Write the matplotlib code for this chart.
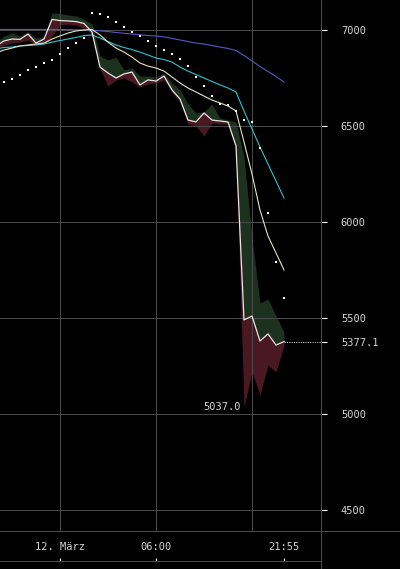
import numpy as np
import matplotlib
matplotlib.use("Agg")
import matplotlib.pyplot as plt
from matplotlib.lines import Line2D

# half-hourly bars, hours since 12. März 00:00
hours = np.arange(-4.0, 14.5, 0.5)

close = [6917, 6943, 6953, 6951, 6979, 6932, 6953, 7055, 7049, 7047, 7044, 7034,
         6990, 6807, 6776, 6750, 6771, 6781, 6714, 6740, 6734, 6760, 6688, 6641,
         6531, 6521, 6568, 6531, 6526, 6521, 6396, 5490, 5510, 5380, 5417, 5359, 5377.1]
high = [6937, 6969, 6984, 6969, 6990, 6958, 6964, 7089, 7086, 7078, 7073, 7057,
        7031, 6865, 6844, 6859, 6792, 6802, 6760, 6760, 6755, 6776, 6724, 6688,
        6615, 6568, 6573, 6615, 6542, 6531, 6521, 6339, 5917, 5578, 5599, 5510, 5427]
low = [6901, 6922, 6932, 6937, 6948, 6922, 6927, 6969, 7026, 7031, 7026, 7010,
       6979, 6797, 6708, 6740, 6750, 6729, 6703, 6719, 6724, 6740, 6677, 6625,
       6510, 6500, 6448, 6516, 6510, 6510, 6375, 5037.0, 5219, 5099, 5255, 5219, 5359]

sma_fast = [6880, 6896, 6906, 6917, 6922, 6927, 6932, 6953, 6969, 6984, 6995, 7000,
            7003, 6974, 6937, 6906, 6885, 6859, 6828, 6812, 6802, 6786, 6755, 6724,
            6698, 6677, 6656, 6635, 6620, 6604, 6578, 6417, 6250, 6062, 5927, 5839, 5750]
sma_mid = [6901, 6909, 6911, 6917, 6919, 6922, 6927, 6937, 6945, 6953, 6961, 6971,
           6974, 6958, 6940, 6922, 6909, 6898, 6885, 6870, 6854, 6846, 6833, 6807,
           6786, 6768, 6750, 6732, 6714, 6698, 6677, 6578, 6484, 6391, 6302, 6213, 6125]
sma_slow = [7003, 7003, 7003, 7003, 7003, 7003, 7003, 7003, 7003, 7002, 7001, 7000,
            6999, 6996, 6992, 6987, 6983, 6979, 6975, 6971, 6969, 6964, 6956, 6948,
            6940, 6932, 6927, 6919, 6911, 6904, 6893, 6867, 6839, 6810, 6784, 6758, 6729]
sar = [6719, 6731, 6745, 6766, 6792, 6809, 6830, 6844, 6875, 6908, 6934, 6957,
       7086, 7084, 7069, 7043, 7017, 6991, 6969, 6944, 6917, 6896, 6875, 6849,
       6812, 6754, 6708, 6656, 6615, 6609, 6578, 6531, 6522, 6385, 6048, 5793, 5606]

last_price = close[-1]
min_low = min(low)

y_ticks = [4500, 5000, 5500, 6000, 6500, 7000]
x_grid = [0, 6, 12]
x_tick_pos = [0, 6, 14]
x_tick_labels = ["12. März", "06:00", "21:55"]

W, H = 400, 569
GRID = "#4d4d4d"
TXT = "#d4d4d4"
MONO = "DejaVu Sans Mono"
x_lim = (-3.75, 16.3125)

fig = plt.figure(figsize=(W / 100, H / 100), dpi=100, facecolor="black")

ax = fig.add_axes([0, 38 / H, 321 / W, 531 / H], facecolor="black")
ax.set_xlim(*x_lim)
ax.set_ylim(4390.6, 7156.25)
for s in ax.spines.values():
    s.set_visible(False)

ax.set_xticks(x_grid)
ax.tick_params(axis="x", length=0, labelbottom=False)
ax.yaxis.tick_right()
ax.set_yticks(y_ticks)
ax.set_yticklabels([str(v) for v in y_ticks])
ax.set_yticks([last_price], minor=True)
ax.set_yticklabels([f"{last_price:.1f}"], minor=True)
ax.tick_params(axis="y", which="both", direction="out", length=4.3, width=0.8,
               color="white", pad=10, labelcolor=TXT, labelsize=7.5)
for lab in ax.get_yticklabels(which="both"):
    lab.set_fontfamily(MONO)
ax.grid(True, which="major", color=GRID, linewidth=0.7)

ax.fill_between(hours, close, high, color="#1d311f", linewidth=0)
ax.fill_between(hours, low, close, color="#4a1822", linewidth=0)
ax.plot(hours, sma_slow, color="#5a55c8", linewidth=0.8)
ax.plot(hours, sma_mid, color="#25c6d6", linewidth=0.8)
ax.plot(hours, sma_fast, color="#e6e2c0", linewidth=0.8)
ax.plot(hours, close, color="#efe4e4", linewidth=0.9)
ax.plot(hours, sar, linestyle="none", marker="s", markersize=1.5,
        color="white", markeredgewidth=0)

ax.plot([hours[-1], x_lim[1]], [last_price, last_price], color="#c8c8c8",
        linewidth=0.7, linestyle=(0, (1.2, 1.2)))
i_min = low.index(min_low)
ax.annotate(f"{min_low:.1f}", xy=(hours[i_min], min_low), xytext=(-2.2, 0),
            textcoords="offset points", ha="right", va="center",
            color=TXT, fontsize=7.5, fontfamily=MONO)

# bottom time strip
axb = fig.add_axes([0, 8 / H, 321 / W, 30 / H], facecolor="black")
axb.set_xlim(*x_lim)
axb.set_ylim(0, 1)
for k, s in axb.spines.items():
    s.set_visible(k == "bottom")
axb.spines["bottom"].set_color(GRID)
axb.spines["bottom"].set_linewidth(0.7)
axb.set_yticks([])
axb.set_xticks(x_tick_pos)
axb.tick_params(axis="x", direction="in", length=2.2, width=0.8, color="white",
                labelbottom=False)
for pos, lab in zip(x_tick_pos, x_tick_labels):
    axb.text(pos, 0.47, lab, ha="center", va="center", color=TXT,
             fontsize=7.5, fontfamily=MONO)

fig.add_artist(Line2D([321 / W, 321 / W], [0, 1], color=GRID, linewidth=0.7,
                      transform=fig.transFigure))
fig.add_artist(Line2D([0, 1], [38 / H, 38 / H], color=GRID, linewidth=0.7,
                      transform=fig.transFigure))

fig.savefig("out.png", dpi=100, facecolor="black")
plt.close(fig)
